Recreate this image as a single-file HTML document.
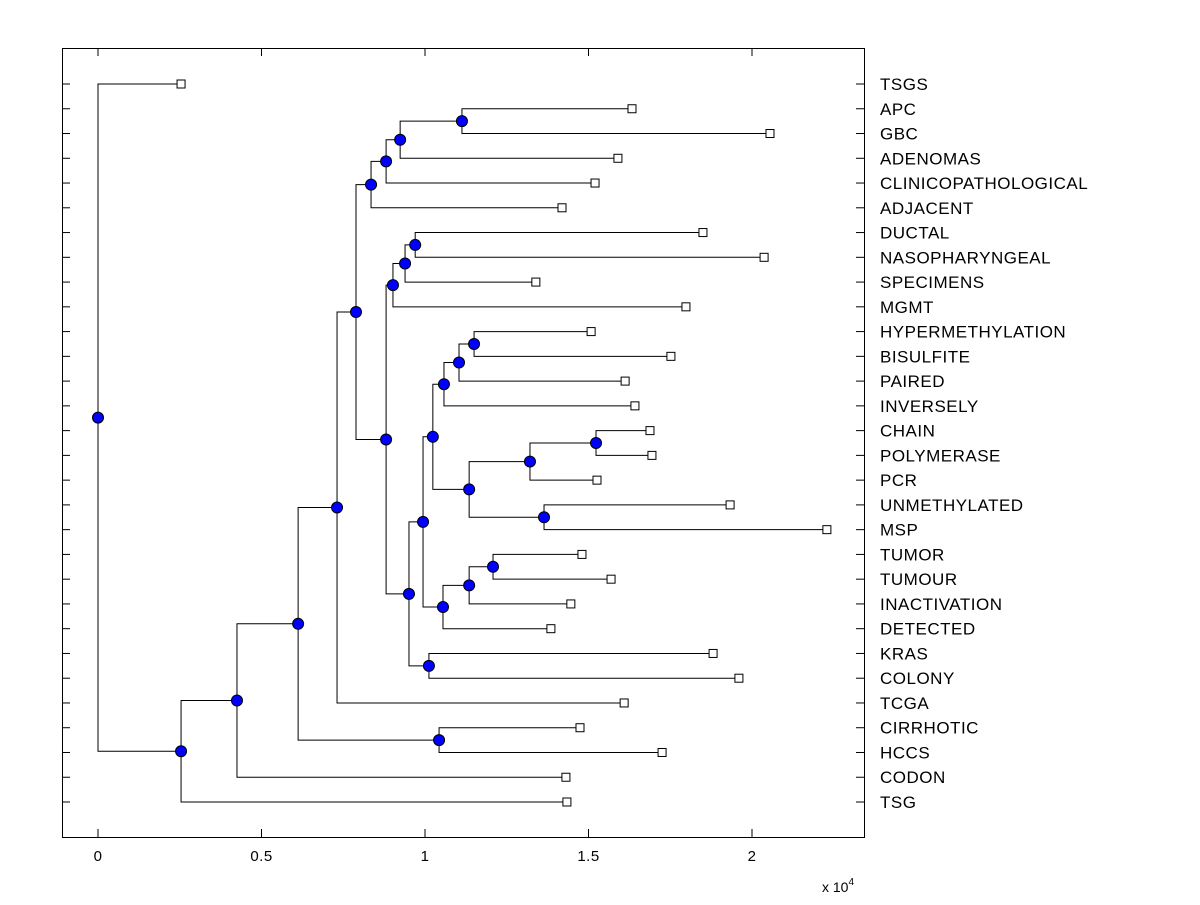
<!DOCTYPE html>
<html><head><meta charset="utf-8"><style>
body{margin:0;background:#fff}
svg text{font-family:"Liberation Sans",Arial,sans-serif;fill:#000}
</style></head><body>
<svg id="chart" width="1200" height="900">
<rect x="0" y="0" width="1200" height="900" fill="#fff"/>
<rect x="62.5" y="48.5" width="802" height="789" fill="#fff" stroke="#000" stroke-width="1"/>
<g id="g"></g>
</svg>
<script>
const leafNames=["TSGS","APC","GBC","ADENOMAS","CLINICOPATHOLOGICAL","ADJACENT","DUCTAL","NASOPHARYNGEAL","SPECIMENS","MGMT","HYPERMETHYLATION","BISULFITE","PAIRED","INVERSELY","CHAIN","POLYMERASE","PCR","UNMETHYLATED","MSP","TUMOR","TUMOUR","INACTIVATION","DETECTED","KRAS","COLONY","TCGA","CIRRHOTIC","HCCS","CODON","TSG"];
const leafValues=[0.254,1.633,2.055,1.590,1.520,1.419,1.850,2.037,1.339,1.798,1.508,1.752,1.612,1.642,1.688,1.694,1.526,1.933,2.229,1.480,1.569,1.446,1.385,1.881,1.960,1.609,1.474,1.725,1.431,1.434];
// internal nodes: [height (x 10^4), left child, right child]; leaves by index
const tree=[0,0,[0.254,[0.425,[0.612,[0.731,[0.789,
  [0.835,[0.881,[0.924,[1.113,1,2],3],4],5],
  [0.881,[0.902,[0.939,[0.970,6,7],8],9],
   [0.951,[0.994,[1.024,[1.058,[1.104,[1.150,10,11],12],13],[1.135,[1.321,[1.523,14,15],16],[1.364,17,18]]],
     [1.055,[1.135,[1.208,19,20],21],22]],[1.012,23,24]]]],25],[1.043,26,27]],28],29]];
const xTicks=[0,0.5,1,1.5,2];
const xTickLabels=["0","0.5","1","1.5","2"];

const NS="http://www.w3.org/2000/svg";
const g=document.getElementById('g');
const X0=62,X1=864,Y0=48,Y1=837;
const xs=v=>98+v*327;
const ys=i=>84+i*(802-84)/(leafNames.length-1);
function mk(t,a){const e=document.createElementNS(NS,t);for(const k in a)e.setAttribute(k,a[k]);g.appendChild(e);return e;}
const nodes=[];
function layout(n){
  if(typeof n==='number') return {x:xs(leafValues[n]),y:ys(n),leaf:true};
  const a=layout(n[1]),b=layout(n[2]);
  const x=xs(n[0]),y=(a.y+b.y)/2;
  let l=mk('polyline',{points:`${a.x},${a.y} ${x},${a.y} ${x},${b.y} ${b.x},${b.y}`,fill:'none',stroke:'#000','stroke-width':1});
  
  
  nodes.push({x,y,a,b});
  return {x,y,leaf:false};
}
layout(tree);
nodes.forEach(n=>{
  let c=mk('circle',{cx:n.x,cy:n.y,r:5.5,fill:'#0000ff',stroke:'#000','stroke-width':1});
  
  
});
leafNames.forEach((nm,i)=>{
  const x=xs(leafValues[i]),y=ys(i);
  let r=mk('rect',{x:x-4,y:y-4,width:8,height:8,fill:'#fff',stroke:'#000','stroke-width':1});
  
  
  let t1=mk('line',{x1:X0,x2:X0+8,y1:y,y2:y,stroke:'#000'});
  
  
  let t2=mk('line',{x1:X1-8,x2:X1,y1:y,y2:y,stroke:'#000'});
  
  
  let t=mk('text',{x:880,y:y+6,'font-size':17,'letter-spacing':0.5});
  t.textContent=nm;
  
  
});
xTicks.forEach((v,i)=>{
  const x=xs(v);
  let l=mk('line',{x1:x,x2:x,y1:Y1-8,y2:Y1,stroke:'#000'});
  
  
  let l2=mk('line',{x1:x,x2:x,y1:Y0,y2:Y0+8,stroke:'#000'});
  
  
  let t=mk('text',{x:x,y:861,'font-size':15,'letter-spacing':0.5,'text-anchor':'middle'});
  t.textContent=xTickLabels[i];
  
  
});
let e=mk('text',{x:822,y:892,'font-size':14});
e.innerHTML='x 10<tspan dy="-7" font-size="10">4</tspan>';


</script>
</body></html>
